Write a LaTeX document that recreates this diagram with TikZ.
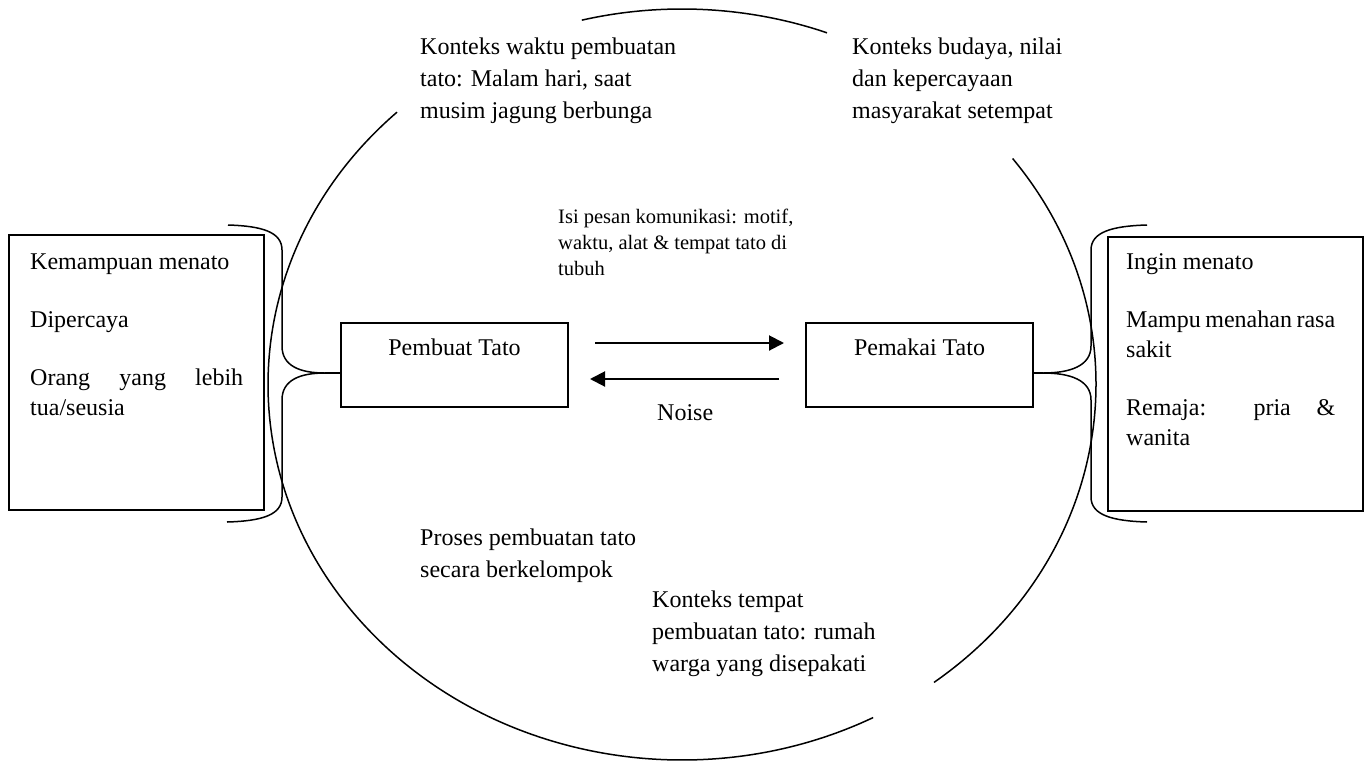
\documentclass[tikz,border=0pt]{standalone}
\usepackage{fontspec}
\setmainfont{Liberation Serif}
\usetikzlibrary{arrows.meta}

\begin{document}
\begin{tikzpicture}[x=1pt,y=-1pt,>={Triangle[length=15pt,width=15pt]},
  kotak/.style={draw,line width=2pt},
  pelaku/.style={kotak,minimum width=227pt,text height=17pt,text depth=37pt,
    inner ysep=15pt,inner xsep=0pt,font=\fontsize{24}{30}\selectfont},
  teks/.style={anchor=base west,inner sep=0pt,align=left,font=\fontsize{24}{32}\selectfont},
  kecil/.style={teks,font=\fontsize{20.5}{26}\selectfont},
  sifat/.style={anchor=base west,inner sep=0pt,text width=213pt,align=justify,
    font=\fontsize{24}{30}\selectfont},
  kurung/.style={line width=1.5pt},
  lingkar/.style={line width=1.5pt},
  panah/.style={->,line width=2pt}]
  \useasboundingbox (0,0) rectangle (1369,761);

  % lingkaran konteks (terputus di empat tempat)
  \coordinate (pusat) at (682,384.5);
  \draw[lingkar] (pusat) ++(-69.5:414 and 375.5) arc[start angle=-69.5,end angle=-104,x radius=414,y radius=375.5];
  \draw[lingkar] (pusat) ++(-133.5:414 and 375.5) arc[start angle=-133.5,end angle=-297.5,x radius=414,y radius=375.5];
  \draw[lingkar] (pusat) ++(52.5:414 and 375.5) arc[start angle=52.5,end angle=-37,x radius=414,y radius=375.5];

  % pelaku komunikasi
  \node[pelaku,anchor=base] (pembuat) at (454.5,355) {Pembuat Tato};
  \node[pelaku,anchor=base] (pemakai) at (919.5,355) {Pemakai Tato};
  \draw[panah,shorten <=26pt,shorten >=21pt] ([yshift=22pt]pembuat.east) -- ([yshift=22pt]pemakai.west);
  \draw[panah,shorten <=26pt,shorten >=21pt] ([yshift=-14pt]pemakai.west) -- ([yshift=-14pt]pembuat.east);
  \node[teks] (noise) at (657,420) {Noise};

  % karakteristik
  \node[kotak,minimum width=255pt,minimum height=275pt] (kiri) at (136.5,372.5) {};
  \node[kotak,minimum width=255pt,minimum height=274pt] (kanan) at (1235.5,374) {};
  \node[sifat] (sifatkiri) at (30,269) {Kemampuan menato\par\vspace{28pt}
    Dipercaya\par\vspace{28pt}
    Orang yang lebih\linebreak tua/seusia};
  \node[sifat,text width=209pt] (sifatkanan) at (1126,269) {Ingin menato\par\vspace{28pt}
    Mampu menahan rasa\linebreak sakit\par\vspace{28pt}
    Remaja: pria \&\linebreak wanita};

  % kurung kurawal
  \coordinate (ujungkiri) at (325,373);
  \coordinate (ujungkanan) at (1043,373);
  \draw[kurung] (228,225) .. controls (262,226) and (282,232) .. (282,250) -- (282,346)
    .. controls (282,366) and (300,373) .. (ujungkiri)
    .. controls (300,373) and (282,380) .. (282,400) -- (282,497)
    .. controls (282,515) and (262,521) .. (227,522);
  \draw[kurung] (1147,225) .. controls (1112,226) and (1091,232) .. (1091,250) -- (1091,346)
    .. controls (1091,366) and (1070,373) .. (ujungkanan)
    .. controls (1070,373) and (1091,380) .. (1091,400) -- (1091,497)
    .. controls (1091,515) and (1112,521) .. (1147,522);
  \draw[line width=2pt] (ujungkiri) -- (ujungkiri -| pembuat.west);
  \draw[line width=2pt] (ujungkanan) -- (ujungkanan -| pemakai.east);

  % konteks (titik acuan = baris terakhir)
  \node[teks] (waktu) at (420,118) {Konteks waktu pembuatan\\tato: Malam hari, saat\\musim jagung berbunga};
  \node[teks] (budaya) at (852,118) {Konteks budaya, nilai\\dan kepercayaan\\masyarakat setempat};
  \node[kecil] (pesan) at (558,275) {Isi pesan komunikasi: motif,\\waktu, alat \& tempat tato di\\tubuh};
  \node[teks] (proses) at (420,577) {Proses pembuatan tato\\secara berkelompok};
  \node[teks] (tempat) at (652,671) {Konteks tempat\\pembuatan tato: rumah\\warga yang disepakati};
\end{tikzpicture}
\end{document}
